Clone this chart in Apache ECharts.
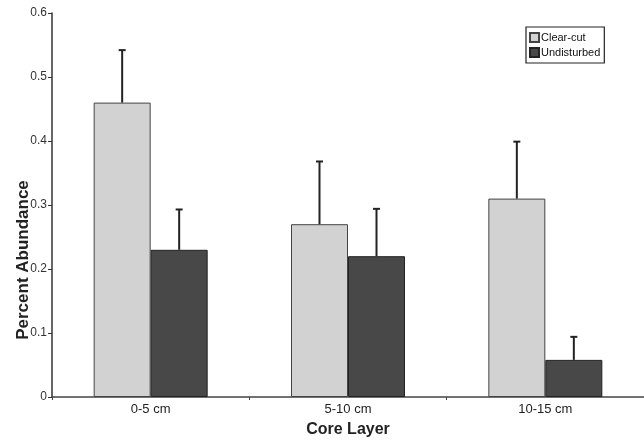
<!DOCTYPE html>
<html><head><meta charset="utf-8">
<script src="https://cdn.jsdelivr.net/npm/echarts@6/dist/echarts.min.js"></script>
<style>html,body{margin:0;padding:0;background:#fff}#c{width:644px;height:443px}</style>
</head><body><div id="c"></div>
<script>
const categories = ['0-5 cm', '5-10 cm', '10-15 cm'];
const clearCut = [0.46, 0.27, 0.31];
const clearCutErr = [0.082, 0.098, 0.089];
const undisturbed = [0.23, 0.22, 0.058];
const undisturbedErr = [0.063, 0.074, 0.036];
const yTicks = [0, 0.1, 0.2, 0.3, 0.4, 0.5, 0.6];

const FONT = '"Liberation Sans", Arial, sans-serif';
const BW = 57;

function errSeries(name, vals, errs, side) {
  return {
    type: 'custom', name: name + ' err', silent: true, z: 5,
    data: vals.map((v, i) => [i, v, v + errs[i]]),
    renderItem: function (params, api) {
      const lo = api.coord([api.value(0), api.value(1)]);
      const hi = api.coord([api.value(0), api.value(2)]);
      const x = lo[0] + side * BW / 2;
      return {
        type: 'group', children: [
          { type: 'line', shape: { x1: x, y1: lo[1], x2: x, y2: hi[1] }, style: { stroke: '#222', lineWidth: 2 } },
          { type: 'line', shape: { x1: x - 3.5, y1: hi[1], x2: x + 3.5, y2: hi[1] }, style: { stroke: '#222', lineWidth: 2 } }
        ]
      };
    }
  };
}

const chart = echarts.init(document.getElementById('c'));
chart.setOption({
  animation: false,
  textStyle: { fontFamily: FONT },
  grid: { left: 52, top: 13, width: 597, height: 391 },
  legend: {
    data: ['Clear-cut', 'Undisturbed'],
    orient: 'vertical', left: 526, top: 27,
    itemWidth: 9, itemHeight: 9, itemGap: 4,
    padding: [5, 4, 5, 3],
    borderColor: '#222', borderWidth: 1.2,
    icon: 'rect',
    textStyle: { fontFamily: FONT, fontSize: 11, color: '#111', padding: [0, 0, 0, -3] }
  },
  graphic: [{
    type: 'text', x: 23, y: 260, rotation: Math.PI / 2,
    style: { text: 'Percent Abundance', font: 'bold 17px ' + FONT, fill: '#222', align: 'center', verticalAlign: 'middle' }
  }],
  xAxis: {
    type: 'category', data: categories,
    axisLine: { lineStyle: { color: '#444', width: 1.5 } },
    axisTick: { show: true, length: 3, lineStyle: { color: '#444' } },
    axisLabel: { fontFamily: FONT, fontSize: 13, color: '#222', margin: 6 },
    name: 'Core Layer', nameLocation: 'middle', nameGap: 25,
    nameTextStyle: { fontFamily: FONT, fontSize: 16, fontWeight: 'bold', color: '#222' }
  },
  yAxis: {
    type: 'value', min: yTicks[0], max: yTicks[yTicks.length - 1], interval: 0.1,
    splitLine: { show: false },
    axisLine: { show: true, lineStyle: { color: '#333', width: 1.5 } },
    axisTick: { show: true, length: 4, lineStyle: { color: '#333' } },
    axisLabel: { fontFamily: FONT, fontSize: 12, color: '#333', margin: 5 }
  },
  series: [
    { name: 'Clear-cut', type: 'bar', data: clearCut, barWidth: BW, barGap: '0%',
      itemStyle: { color: '#d2d2d2', borderColor: '#444', borderWidth: 1 } },
    { name: 'Undisturbed', type: 'bar', data: undisturbed, barWidth: BW, barGap: '0%',
      itemStyle: { color: '#484848', borderColor: '#222', borderWidth: 1 } },
    errSeries('Clear-cut', clearCut, clearCutErr, -1),
    errSeries('Undisturbed', undisturbed, undisturbedErr, 1)
  ]
});
</script></body></html>
